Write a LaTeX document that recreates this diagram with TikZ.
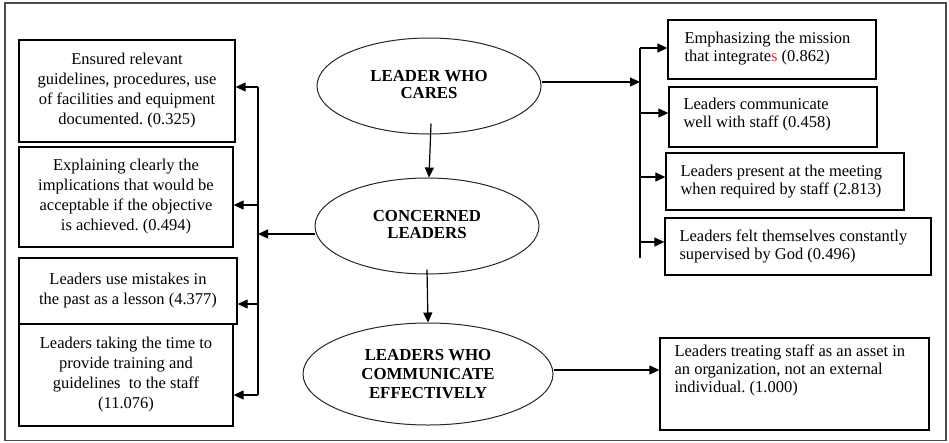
\documentclass[tikz,border=0pt]{standalone}
\usepackage{fontspec}
\setmainfont{Liberation Serif}
\usetikzlibrary{arrows.meta,shapes.geometric}
\definecolor{redS}{HTML}{E8302A}
\frenchspacing
\begin{document}
\begin{tikzpicture}[x=1pt,y=-1pt,
  box/.style={draw=black,line width=1.3pt,rectangle,inner sep=0pt},
  lbox/.style={box,align=center,font=\fontsize{16.5}{20}\selectfont},
  rtext/.style={inner sep=0pt,align=left,font=\fontsize{16.5}{18}\selectfont},
  oval/.style={draw=black!85,line width=1pt,ellipse,inner sep=0pt,align=center,font=\bfseries\fontsize{16.8}{19}\selectfont},
  arr/.style={-{Triangle[length=10pt,width=9pt]},line width=1.2pt},
  bus/.style={line width=1.2pt}]
\useasboundingbox (0,0) rectangle (949,442);
\draw[line width=1.5pt,draw=black!70] (5,3) rectangle (946,440.5);

% ellipses
\node[oval,minimum width=224pt,minimum height=96pt] (E1) at (429,86) {\raisebox{4pt}{\begin{tabular}{@{}c@{}}LEADER WHO\\[-2pt]CARES\end{tabular}}};
\node[oval,minimum width=224pt,minimum height=96pt] (E2) at (427,226) {\raisebox{5pt}{\begin{tabular}{@{}c@{}}CONCERNED\\[-2pt]LEADERS\end{tabular}}};
\node[oval,minimum width=250pt,minimum height=102pt] (E3) at (428,374) {LEADERS WHO\\COMMUNICATE\\EFFECTIVELY};

% left boxes
\node[lbox,minimum width=216pt,minimum height=102pt] (B1) at (127,91) {Ensured relevant\\guidelines, procedures, use\\of facilities and equipment\\documented. (0.325)};
\node[lbox,minimum width=214pt,minimum height=100pt] (B2) at (126,197) {Explaining clearly the\\implications that would be\\acceptable if the objective\\is achieved. (0.494)};
\node[lbox,minimum width=218pt,minimum height=66pt] (B3) at (128,291) {Leaders use mistakes in\\the past as a lesson (4.377)};
\node[lbox,minimum width=214pt,minimum height=102pt] (B4) at (126,375) {Leaders taking the time to\\provide training and\\guidelines\ \ to the staff\\(11.076)};

% right boxes
\node[box,minimum width=208pt,minimum height=59pt] (R1) at (772,49.5) {};
\node[box,minimum width=208pt,minimum height=60pt] (R2) at (773,117) {};
\node[box,minimum width=238pt,minimum height=57pt] (R3) at (785,181.5) {};
\node[box,minimum width=266pt,minimum height=57pt] (R4) at (798,246.5) {};
\node[box,minimum width=269pt,minimum height=92pt] (R5) at (794.5,384) {};
\node[rtext,anchor=west] (R1t) at ([xshift=17pt,yshift=1pt]R1.west) {Emphasizing the mission\\that integrate{\color{redS}s} (0.862)};
\node[rtext,anchor=west] (R2t) at ([xshift=15pt,yshift=2pt]R2.west) {Leaders communicate\\well with staff (0.458)};
\node[rtext,anchor=west] (R3t) at ([xshift=15pt]R3.west) {Leaders present at the meeting\\when required by staff (2.813)};
\node[rtext,anchor=west] (R4t) at ([xshift=15pt]R4.west) {Leaders felt themselves constantly\\supervised by God (0.496)};
\node[rtext,anchor=north west] (R5t) at ([xshift=15pt,yshift=-7pt]R5.north west) {Leaders treating staff as an asset in\\an organization, not an external\\individual. (1.000)};

% vertical flow
\draw[arr] ([xshift=2pt,yshift=11pt]E1.south) -- ([xshift=2pt]E2.north);
\draw[arr] ([yshift=5pt]E2.south) -- (E3.north);

% left bus
\coordinate (LB1) at (258,87);
\coordinate (LB2) at (258,205);
\coordinate (LB3) at (258,304);
\coordinate (LB4) at (258,395);
\draw[bus] (LB1) -- (LB4);
\draw[arr] (LB1) -- (LB1 -| B1.east);
\draw[arr] (LB2) -- (LB2 -| B2.east);
\draw[arr] (LB3) -- (LB3 -| B3.east);
\draw[arr] (LB4) -- (LB4 -| B4.east);
\draw[arr] ([yshift=-8pt]E2.west) -- ([yshift=-8pt]E2.west -| LB1);

% right bus
\coordinate (RA1) at (640,48);
\coordinate (RA2) at (640,113);
\coordinate (RA3) at (640,177);
\coordinate (RA4) at (640,242);
\coordinate (RB) at (640,258);
\draw[bus] (RA1) -- (RB);
\draw[arr] ([yshift=4pt]E1.east) -- ([yshift=4pt]E1.east -| RA1);
\draw[arr] (RA1) -- (RA1 -| R1.west);
\draw[arr] (RA2) -- (RA2 -| R2.west);
\draw[arr] (RA3) -- (RA3 -| R3.west);
\draw[arr] (RA4) -- (RA4 -| R4.west);

% bottom
\draw[arr] ([yshift=4pt]E3.east) -- ([yshift=4pt]E3.east -| R5.west);
\end{tikzpicture}
\end{document}
